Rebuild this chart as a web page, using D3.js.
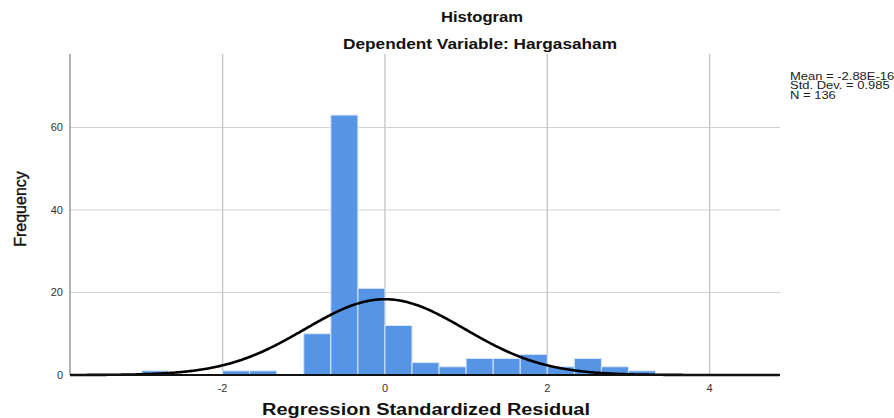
<!DOCTYPE html>
<html>
<head>
<meta charset="utf-8">
<script src="https://cdn.jsdelivr.net/npm/d3@7"></script>
<style>
  body { margin: 0; background: #fff; }
  svg { display: block; font-family: "Liberation Sans", Arial, sans-serif; }
</style>
</head>
<body>
<script>
// bin edges (left side) of each bar, width 1/3
var binStarts = [-3, -7/3, -2, -5/3, -4/3, -1, -2/3, -1/3, 0, 1/3, 2/3, 1, 4/3, 5/3, 2, 7/3, 8/3, 3];
var counts    = [ 1,  0,    1,   1,    0,   10,  63,   21,  12, 3,   2,   4, 4,   5,   2, 4,   2,   1];
var binWidth = 1/3;
var xTicks = [-2, 0, 2, 4];
var yTicks = [0, 20, 40, 60];
var mean = -2.88e-16, sd = 0.985, n = 136;
var legendLines = ["Mean = -2.88E-16", "Std. Dev. = 0.985", "N = 136"];

var w = 894, h = 418;
var plotLeft = 70, plotRight = 780, plotTop = 54, plotBottom = 375;

var bins = binStarts.map(function(d, i) { return { x0: d, count: counts[i] }; })
  .filter(function(b) { return b.count > 0; });

var svg = d3.select("body").append("svg")
  .attr("width", w)
  .attr("height", h);

var x = d3.scaleLinear().domain([-3.88, 4.867]).range([plotLeft, plotRight]);
var y = d3.scaleLinear().domain([0, 77.8]).range([plotBottom, plotTop]);

// horizontal gridlines
svg.selectAll("line.hgrid")
  .data(yTicks.filter(function(d) { return d > 0; }))
  .enter().append("line")
  .attr("class", "hgrid")
  .attr("x1", plotLeft).attr("x2", plotRight)
  .attr("y1", function(d) { return y(d); })
  .attr("y2", function(d) { return y(d); })
  .attr("stroke", "#d0d0d0")
  .attr("stroke-width", 1);

// vertical gridlines
svg.selectAll("line.vgrid")
  .data(xTicks)
  .enter().append("line")
  .attr("class", "vgrid")
  .attr("x1", function(d) { return x(d); })
  .attr("x2", function(d) { return x(d); })
  .attr("y1", plotTop).attr("y2", plotBottom)
  .attr("stroke", "#c4c4c4")
  .attr("stroke-width", 1.3);

// bars
svg.selectAll("rect.bar")
  .data(bins)
  .enter().append("rect")
  .attr("class", "bar")
  .attr("x", function(d) { return x(d.x0); })
  .attr("y", function(d) { return y(d.count); })
  .attr("width", function(d) { return x(d.x0 + binWidth) - x(d.x0); })
  .attr("height", function(d) { return plotBottom - y(d.count); })
  .attr("fill", "#5694e5")
  .attr("stroke", "#d8e6f8")
  .attr("stroke-width", 1);

// left axis line
svg.append("line")
  .attr("x1", plotLeft).attr("x2", plotLeft)
  .attr("y1", plotTop).attr("y2", plotBottom)
  .attr("stroke", "#999")
  .attr("stroke-width", 1.5);

// normal curve
var pts = d3.range(-3.88, 4.87, 0.02);
var scaleK = n * binWidth / (sd * Math.sqrt(2 * Math.PI));
var line = d3.line()
  .x(function(d) { return x(d); })
  .y(function(d) { return y(scaleK * Math.exp(-0.5 * Math.pow((d - mean) / sd, 2))); });
svg.append("path")
  .datum(pts)
  .attr("d", line)
  .attr("fill", "none")
  .attr("stroke", "#000")
  .attr("stroke-width", 2.6);

// bottom axis line
svg.append("line")
  .attr("x1", plotLeft).attr("x2", plotRight)
  .attr("y1", plotBottom).attr("y2", plotBottom)
  .attr("stroke", "#111")
  .attr("stroke-width", 2);

// tick labels
svg.selectAll("text.xt")
  .data(xTicks)
  .enter().append("text")
  .attr("class", "xt")
  .text(function(d) { return d; })
  .attr("x", function(d) { return x(d); })
  .attr("y", 392)
  .attr("text-anchor", "middle")
  .attr("font-size", "11px")
  .attr("fill", "#333");

svg.selectAll("text.yt")
  .data(yTicks)
  .enter().append("text")
  .attr("class", "yt")
  .text(function(d) { return d; })
  .attr("x", 63)
  .attr("y", function(d) { return y(d) + 4; })
  .attr("text-anchor", "end")
  .attr("font-size", "11px")
  .attr("fill", "#333");

// titles (source image text is a little wider than the font)
svg.append("text")
  .text("Histogram")
  .attr("x", 482).attr("y", 22)
  .attr("text-anchor", "middle")
  .attr("font-size", "15px")
  .attr("font-weight", "bold")
  .attr("textLength", 82)
  .attr("lengthAdjust", "spacingAndGlyphs")
  .attr("fill", "#111");

svg.append("text")
  .text("Dependent Variable: Hargasaham")
  .attr("x", 480).attr("y", 49)
  .attr("text-anchor", "middle")
  .attr("font-size", "15px")
  .attr("font-weight", "bold")
  .attr("textLength", 274)
  .attr("lengthAdjust", "spacingAndGlyphs")
  .attr("fill", "#111");

svg.append("text")
  .text("Regression Standardized Residual")
  .attr("x", 426).attr("y", 415)
  .attr("text-anchor", "middle")
  .attr("font-size", "16px")
  .attr("font-weight", "bold")
  .attr("textLength", 328)
  .attr("lengthAdjust", "spacingAndGlyphs")
  .attr("fill", "#111");

svg.append("text")
  .text("Frequency")
  .attr("transform", "translate(26,209) rotate(-90)")
  .attr("text-anchor", "middle")
  .attr("font-size", "16px")
  .attr("fill", "#111")
  .attr("stroke", "#111")
  .attr("stroke-width", 0.4);

// stats legend
svg.append("g")
  .attr("transform", "translate(790,0) scale(1.3,1)")
  .selectAll("text.legend")
  .data(legendLines)
  .enter().append("text")
  .attr("class", "legend")
  .text(function(d) { return d; })
  .attr("x", 0)
  .attr("y", function(d, i) { return 80 + i * 9.5; })
  .attr("font-size", "10px")
  .attr("fill", "#222");
</script>
</body>
</html>
